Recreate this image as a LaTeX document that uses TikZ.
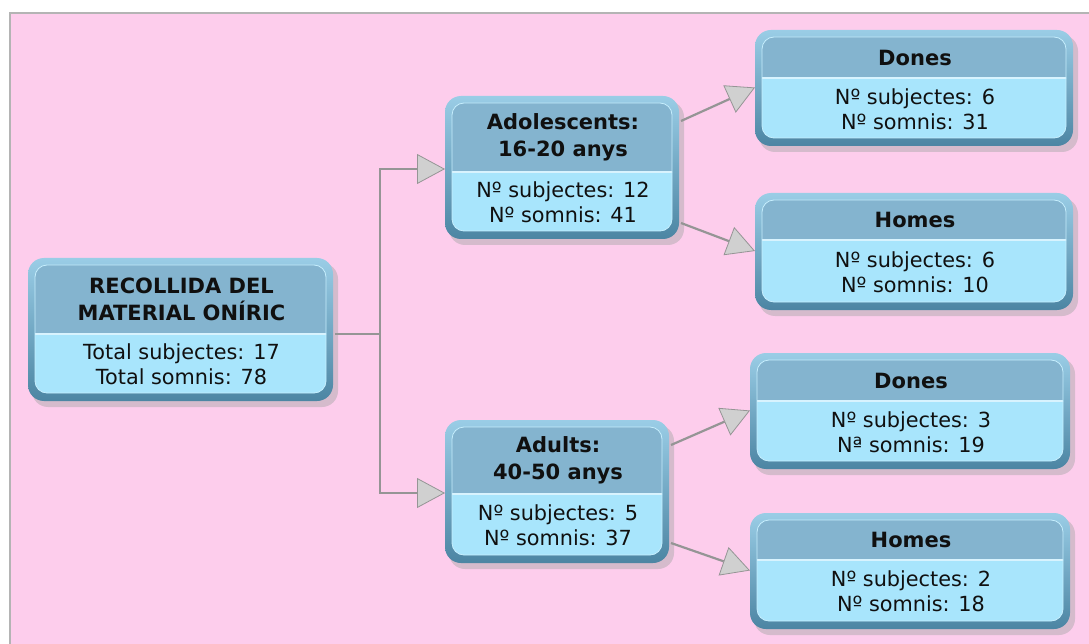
\documentclass[tikz,border=0pt]{standalone}
\usepackage{fontspec}
\setmainfont{DejaVu Sans}
\usetikzlibrary{arrows.meta}
\definecolor{bgpink}{HTML}{FDCDEC}
\definecolor{framegray}{HTML}{B4B4B4}
\definecolor{headc}{HTML}{84B4CF}
\definecolor{bodyc}{HTML}{A8E5FC}
\definecolor{rimtop}{HTML}{9ACDE6}
\definecolor{rimbot}{HTML}{4C85A3}
\definecolor{linegray}{HTML}{959595}
\definecolor{tipfill}{HTML}{D0D0D0}
\definecolor{txt}{HTML}{101010}
\tikzset{
  x=1pt,y=-1pt,
  bshadow/.style={fill=black!35,opacity=0.45,rounded corners=16pt},
  rim/.style={top color=rimtop,bottom color=rimbot,rounded corners=16pt},
  innerhl/.style={draw=white!35!bodyc,line width=0.8pt,rounded corners=12pt},
  splitline/.style={draw=white!55!bodyc,line width=1.5pt},
  hit/.style={rectangle,inner sep=0pt,outer sep=0pt},
  headtxt/.style={align=center,text=txt,font=\fontsize{21}{27}\selectfont\bfseries},
  bodytxt/.style={align=center,text=txt,font=\fontsize{20.8}{25}\selectfont},
  conn/.style={draw=linegray,line width=2.2pt},
  arr/.style={conn,-{Triangle[length=28pt,width=30pt,fill=tipfill,line width=0.8pt]}}
}
% #1 name, #2 x1, #3 y1, #4 x2, #5 y2, #6 split y, #7 header, #8 body
\newcommand\dbox[8]{%
  \fill[bshadow] (#2+4,#3+5) rectangle (#4+3,#5+3);
  \shade[rim] (#2,#3) rectangle (#4-2,#5-3);
  \begin{scope}
    \clip[rounded corners=12pt] (#2+7,#3+7) rectangle (#4-9,#5-11);
    \fill[headc] (#2,#3) rectangle (#4,#6);
    \fill[bodyc] (#2,#6) rectangle (#4,#5);
    \draw[splitline] (#2,#6) -- (#4,#6);
  \end{scope}
  \draw[innerhl] (#2+7,#3+7) rectangle (#4-9,#5-11);
  \node[hit,minimum width={(#4-#2)*1pt},minimum height={(#5-#3)*1pt}] (#1) at ({(#2+#4)/2},{(#3+#5)/2}) {};
  \node[headtxt] (#1-h) at ({(#2+#4)/2},{(#3+7+#6)/2}) {#7};
  \node[bodytxt] (#1-b) at ({(#2+#4)/2},{(#6+#5-9)/2}) {#8};
}
\begin{document}
\begin{tikzpicture}
\useasboundingbox (0,0) rectangle (1089,644);
\fill[white] (0,0) rectangle (1089,644);
\fill[bgpink] (10,13) rectangle (1089,644);
\draw[framegray,line width=2.5pt] (10,644) -- (10,13) -- (1089,13);

\dbox{root}{28}{258}{335}{404}{334}{RECOLLIDA DEL\\MATERIAL ONÍRIC}{Total subjectes: 17\\Total somnis: 78}
\dbox{ado}{445}{96}{681}{242}{172}{Adolescents:\\16-20 anys}{Nº subjectes: 12\\Nº somnis: 41}
\dbox{adu}{445}{420}{671}{566}{494}{Adults:\\40-50 anys}{Nº subjectes: 5\\Nº somnis: 37}
\dbox{d1}{755}{30}{1075}{149}{78}{Dones}{Nº subjectes: 6\\Nº somnis: 31}
\dbox{h1}{755}{193}{1075}{313}{240}{Homes}{Nº subjectes: 6\\Nº somnis: 10}
\dbox{d2}{750}{353}{1072}{472}{401}{Dones}{Nº subjectes: 3\\Nª somnis: 19}
\dbox{h2}{750}{513}{1072}{632}{560}{Homes}{Nº subjectes: 2\\Nº somnis: 18}

\draw[arr] ([yshift=-3pt]root.east) -- ++(45,0) |- (ado.west);
\draw[arr] ([yshift=-3pt]root.east) -- ++(45,0) |- (adu.west);
\draw[arr] ([yshift=48pt]ado.east) -- ([yshift=2pt]d1.west);
\draw[arr] ([yshift=-54pt]ado.east) -- ([yshift=2pt]h1.west);
\draw[arr] ([yshift=48pt]adu.east) -- ([yshift=2pt]d2.west);
\draw[arr] ([yshift=-50pt]adu.east) -- ([yshift=2pt]h2.west);
\end{tikzpicture}
\end{document}
